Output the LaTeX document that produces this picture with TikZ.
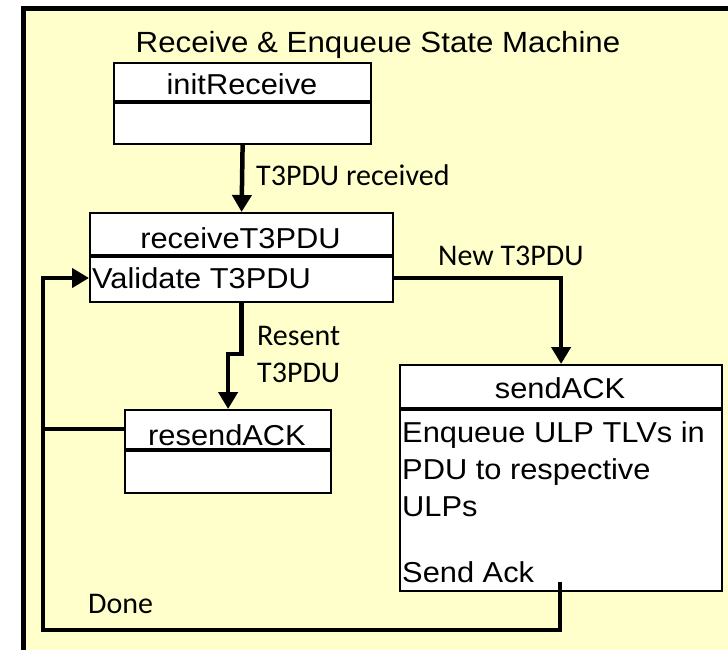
\documentclass[tikz,border=0pt]{standalone}
\usepackage{fontspec}
\setmainfont{Liberation Sans}[FakeStretch=1.07]
\newfontfamily\labfont{Carlito}
\usetikzlibrary{arrows.meta}
\definecolor{bgyellow}{RGB}{255,255,204}
\tikzset{
  box/.style={draw=black, line width=2.2pt, fill=white, inner sep=0pt, anchor=north west},
  divider/.style={line width=4pt},
  boxtext/.style={inner sep=0pt, anchor=base, font=\fontsize{28.8}{34}\selectfont},
  bodytext/.style={boxtext, anchor=base west},
  lab/.style={inner sep=0pt, anchor=base west, font=\labfont\fontsize{30}{37}\selectfont},
  conn/.style={line width=4.5pt, -{Triangle[length=17pt,width=19pt]}},
  plain/.style={line width=4.5pt}
}
\begin{document}
\begin{tikzpicture}[x=1pt,y=-1pt]
\useasboundingbox (0,0) rectangle (728,650);
\clip (0,0) rectangle (728,650);
\fill[white] (0,0) rectangle (728,650);
% frame
\draw[line width=5pt, fill=bgyellow] (23.5,8.5) rectangle (780,700);
% title
\node[boxtext] (title) at (378,53) {\fontsize{29.2}{34}\selectfont Receive \& Enqueue State Machine};
% boxes
\node[box, minimum width=257pt, minimum height=81pt] (init) at (113,62) {};
\draw[divider] (113,102) -- (370,102);
\node[boxtext] (inithdr) at (242,95) {initReceive};

\node[box, minimum width=303pt, minimum height=89pt] (recv) at (89,212) {};
\draw[divider] (89,256) -- (392,256);
\node[boxtext] (recvhdr) at (240.5,248) {receiveT3PDU};
\node[bodytext] (validate) at (92,288) {Validate T3PDU};

\node[box, minimum width=206pt, minimum height=83pt] (resend) at (124,409) {};
\draw[divider] (124,450) -- (330,450);
\node[boxtext] (resendhdr) at (227,445) {resendACK};

\node[box, minimum width=322pt, minimum height=226pt] (send) at (399,364) {};
\draw[divider] (399,409) -- (721,409);
\node[boxtext] (sendhdr) at (560,398) {sendACK};
\node[bodytext] (b1) at (402,442) {Enqueue ULP TLVs in};
\node[bodytext] (b2) at (402,479) {PDU to respective};
\node[bodytext] (b3) at (402,516) {ULPs};
\node[bodytext] (b4) at (402,582) {Send Ack};

% coordinates
\coordinate (loop) at (43,630);
\coordinate (sendout) at (560,582);
\coordinate (vin) at (0,278);

% labels
\node[lab] (l1) at (256,185) {T3PDU received};
\node[lab] (l2) at (438,265) {New T3PDU};
\node[lab] (l3a) at (257,345) {Resent};
\node[lab] (l3b) at (257,382) {T3PDU};
\node[lab] (l4) at (88,613) {Done};

% connectors
\draw[conn] (init.south) -- (recv.north);
\draw[conn] (recv.east |- vin) -| (send.north);
\draw[conn] (recv.south) -- ++(0,51) -| (resend.north);
\draw[plain] (resend.west |- 0,429) -- (loop |- 0,429);
\draw[conn] (sendout) -- (sendout |- loop) -- (loop) -- (loop |- vin) -- (recv.west |- vin);
\end{tikzpicture}
\end{document}
